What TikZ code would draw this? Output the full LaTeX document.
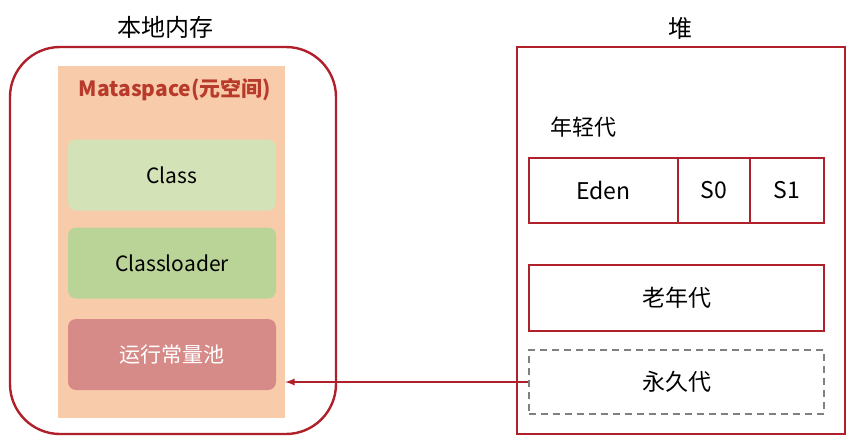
\documentclass[tikz,border=0pt]{standalone}
\usepackage{fontspec}
\setmainfont{Noto Sans CJK SC}
\definecolor{dred}{HTML}{B0202A}
\definecolor{orng}{HTML}{F8CCAA}
\definecolor{lg}{HTML}{D4E2B7}
\definecolor{mg}{HTML}{BAD498}
\definecolor{pk}{HTML}{D78B89}
\definecolor{ttl}{HTML}{B83A2A}
\begin{document}
\begin{tikzpicture}[x=1pt,y=-1pt,
 frame/.style={draw=dred,line width=2.4pt},
 cell/.style={draw=dred,line width=2.4pt,minimum height=65pt,font=\fontsize{23}{26}\selectfont,inner sep=0},
 pill/.style={rounded corners=8pt,minimum width=208pt,minimum height=71pt,font=\fontsize{21}{24}\selectfont,inner sep=0}]
\useasboundingbox (0,0) rectangle (852,439);
\node[draw=dred,line width=2.4pt,rounded corners=50pt,minimum width=326pt,minimum height=387pt] (mem) at (173,240.5) {};
\node[fill=orng,minimum width=227pt,minimum height=352pt,inner sep=0] (meta) at (171.5,242) {};
\node[font=\fontsize{21}{24}\selectfont\bfseries,text=ttl] (mt) at (175,90) {Mataspace(元空间)};
\node[pill,fill=lg] (cls) at (172,175) {Class};
\node[pill,fill=mg] (cl) at (172,263) {Classloader};
\node[pill,fill=pk,text=white] (rt) at (172,354.5) {运行常量池};
\node[font=\fontsize{24}{27}\selectfont] (t1) at (165,27) {本地内存};
\node[font=\fontsize{24}{27}\selectfont] (t2) at (680,28) {堆};
\node[frame,minimum width=328pt,minimum height=387pt,inner sep=0] (heap) at (681,240.5) {};
\node[font=\fontsize{22}{25}\selectfont] (yg) at (583,127) {年轻代};
\node[cell,minimum width=149pt] (eden) at (603.5,190.5) {Eden};
\node[cell,minimum width=72pt] (s0) at (714,190.5) {S0};
\node[cell,minimum width=74pt] (s1) at (787,190.5) {S1};
\node[cell,minimum width=295pt,minimum height=66pt] (old) at (676.5,298) {老年代};
\node[cell,draw=gray,dashed,dash pattern=on 7pt off 5pt,minimum width=295pt,minimum height=64pt] (perm) at (676.5,382) {永久代};
\draw[dred,line width=2.2pt,-latex] (perm.west) -- (meta.east |- perm.west);
\end{tikzpicture}
\end{document}
